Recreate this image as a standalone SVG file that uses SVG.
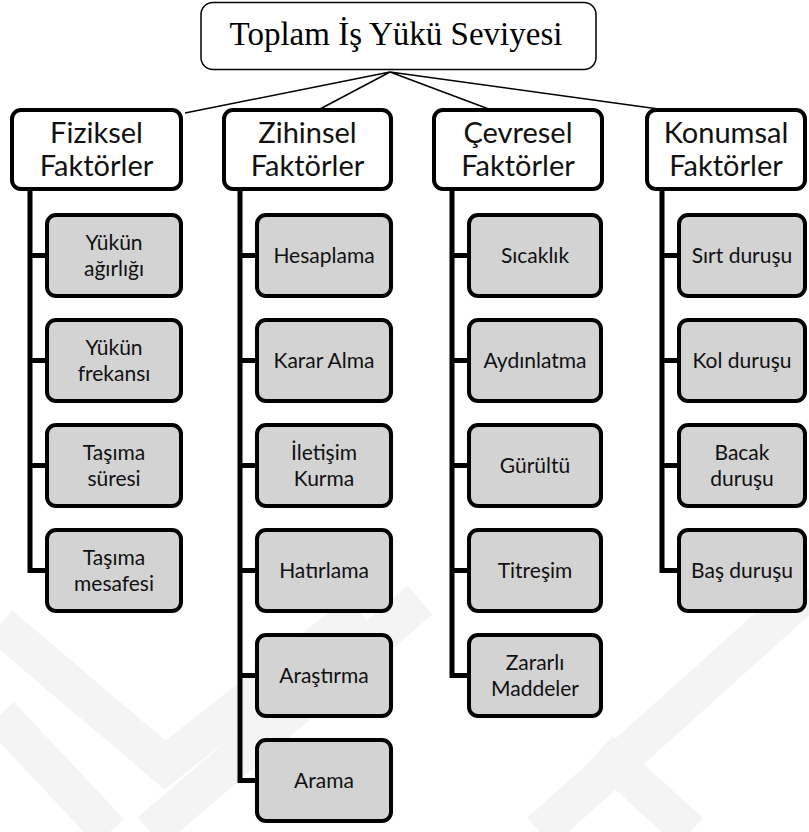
<svg xmlns="http://www.w3.org/2000/svg" width="809" height="832" viewBox="0 0 809 832">
<style>
.top{fill:#fff;stroke:#000;stroke-width:1.5}
.l1{fill:#fff;stroke:#000;stroke-width:4}
.l2{fill:#d3d3d3;stroke:#000;stroke-width:4}
.conn{stroke:#000;stroke-width:1.5;fill:none}
.tree{stroke:#000;stroke-width:5;fill:none;stroke-linejoin:miter}
.wm{stroke:#f4f4f4;stroke-width:38;fill:none;stroke-linecap:butt}
.tt{font-family:"Liberation Serif","Times New Roman",serif;font-size:33px;fill:#000;text-anchor:middle}
.t1{font-family:Lato,"Open Sans",sans-serif;font-size:29px;fill:#111;text-anchor:middle}
.t2{font-family:Lato,"Open Sans",sans-serif;font-size:21px;fill:#111;text-anchor:middle}
</style>
<rect width="809" height="832" fill="#fff"/>
<g id="watermark">
<path class="wm" d="M0,625 L165,765 L360,612"/>
<path class="wm" d="M0,715 L110,832"/>
<path class="wm" d="M150,832 L420,600"/>
<path class="wm" d="M540,832 L809,590"/>
<path class="wm" d="M600,750 L690,832"/>
</g>
<g id="connectors">
<path class="conn" d="M390,72 L185,113 M390,72 L320,109 M390,72 L494,111 M390,72 L673,111"/>
<path class="tree" d="M30,190 V570.5 H47 M30,255.5 H47 M30,360.5 H47 M30,465.5 H47"/>
<path class="tree" d="M240,190 V780.5 H257 M240,255.5 H257 M240,360.5 H257 M240,465.5 H257 M240,570.5 H257 M240,675.5 H257"/>
<path class="tree" d="M452,190 V675.5 H469 M452,255.5 H469 M452,360.5 H469 M452,465.5 H469 M452,570.5 H469"/>
<path class="tree" d="M662,190 V570.5 H679 M662,255.5 H679 M662,360.5 H679 M662,465.5 H679"/>
</g>
<g id="root"><rect class="top" x="201" y="2.5" width="395" height="67" rx="12"/><text class="tt" x="396" y="45">Toplam İş Yükü Seviyesi</text></g>
<g id="fiziksel"><rect class="l1" x="12" y="110" width="169" height="79" rx="9"/><text class="t1" x="96.5" y="143">Fiziksel</text><text class="t1" x="96.5" y="176">Faktörler</text></g>
<g id="zihinsel"><rect class="l1" x="224" y="110" width="167" height="79" rx="9"/><text class="t1" x="307.5" y="143">Zihinsel</text><text class="t1" x="307.5" y="176">Faktörler</text></g>
<g id="cevresel"><rect class="l1" x="434" y="110" width="168" height="79" rx="9"/><text class="t1" x="518" y="143">Çevresel</text><text class="t1" x="518" y="176">Faktörler</text></g>
<g id="konumsal"><rect class="l1" x="647" y="110" width="158" height="79" rx="9"/><text class="t1" x="726" y="143">Konumsal</text><text class="t1" x="726" y="176">Faktörler</text></g>

<g id="f1"><rect class="l2" x="47" y="215" width="134" height="81" rx="9"/><text class="t2" x="114" y="250">Yükün</text><text class="t2" x="114" y="276">ağırlığı</text></g>
<g id="f2"><rect class="l2" x="47" y="320" width="134" height="81" rx="9"/><text class="t2" x="114" y="355">Yükün</text><text class="t2" x="114" y="381">frekansı</text></g>
<g id="f3"><rect class="l2" x="47" y="425" width="134" height="81" rx="9"/><text class="t2" x="114" y="460">Taşıma</text><text class="t2" x="114" y="486">süresi</text></g>
<g id="f4"><rect class="l2" x="47" y="530" width="134" height="81" rx="9"/><text class="t2" x="114" y="565">Taşıma</text><text class="t2" x="114" y="591">mesafesi</text></g>

<g id="z1"><rect class="l2" x="257" y="215" width="134" height="81" rx="9"/><text class="t2" x="324" y="263">Hesaplama</text></g>
<g id="z2"><rect class="l2" x="257" y="320" width="134" height="81" rx="9"/><text class="t2" x="324" y="368">Karar Alma</text></g>
<g id="z3"><rect class="l2" x="257" y="425" width="134" height="81" rx="9"/><text class="t2" x="324" y="460">İletişim</text><text class="t2" x="324" y="486">Kurma</text></g>
<g id="z4"><rect class="l2" x="257" y="530" width="134" height="81" rx="9"/><text class="t2" x="324" y="578">Hatırlama</text></g>
<g id="z5"><rect class="l2" x="257" y="635" width="134" height="81" rx="9"/><text class="t2" x="324" y="683">Araştırma</text></g>
<g id="z6"><rect class="l2" x="257" y="740" width="134" height="81" rx="9"/><text class="t2" x="324" y="788">Arama</text></g>

<g id="c1"><rect class="l2" x="469" y="215" width="132" height="81" rx="9"/><text class="t2" x="535" y="263">Sıcaklık</text></g>
<g id="c2"><rect class="l2" x="469" y="320" width="132" height="81" rx="9"/><text class="t2" x="535" y="368">Aydınlatma</text></g>
<g id="c3"><rect class="l2" x="469" y="425" width="132" height="81" rx="9"/><text class="t2" x="535" y="473">Gürültü</text></g>
<g id="c4"><rect class="l2" x="469" y="530" width="132" height="81" rx="9"/><text class="t2" x="535" y="578">Titreşim</text></g>
<g id="c5"><rect class="l2" x="469" y="635" width="132" height="81" rx="9"/><text class="t2" x="535" y="670">Zararlı</text><text class="t2" x="535" y="696">Maddeler</text></g>

<g id="k1"><rect class="l2" x="679" y="215" width="126" height="81" rx="9"/><text class="t2" x="742" y="263">Sırt duruşu</text></g>
<g id="k2"><rect class="l2" x="679" y="320" width="126" height="81" rx="9"/><text class="t2" x="742" y="368">Kol duruşu</text></g>
<g id="k3"><rect class="l2" x="679" y="425" width="126" height="81" rx="9"/><text class="t2" x="742" y="460">Bacak</text><text class="t2" x="742" y="486">duruşu</text></g>
<g id="k4"><rect class="l2" x="679" y="530" width="126" height="81" rx="9"/><text class="t2" x="742" y="578">Baş duruşu</text></g>
</svg>
